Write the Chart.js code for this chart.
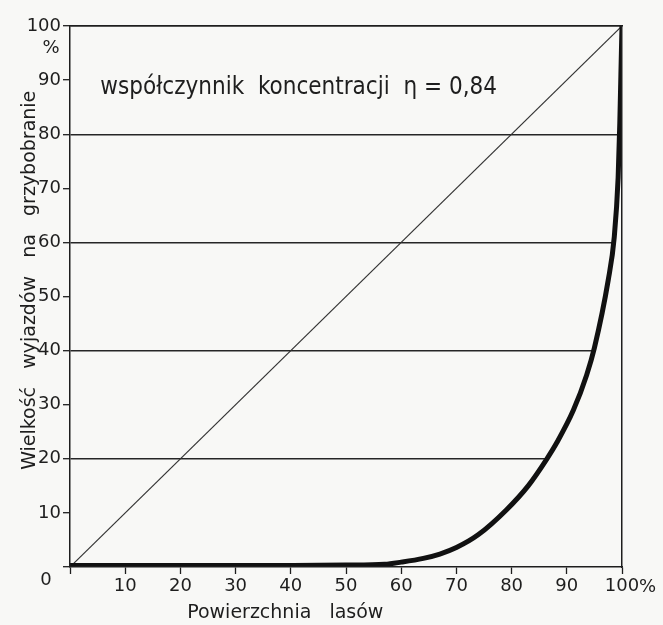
<!DOCTYPE html>
<html>
<head>
<meta charset="utf-8">
<script src="https://cdn.jsdelivr.net/npm/chart.js@4.4.0/dist/chart.umd.min.js"></script>
<style>
  html, body { margin: 0; padding: 0; background: #f8f8f6; }
</style>
</head>
<body>
<canvas id="myChart" width="663" height="625"></canvas>
<script>
// Lorenz curve: share of forest area (%) vs share of trips (%)
var areaShare = [0, 10, 20, 30, 40, 50, 57, 60, 64, 67, 70, 74, 79, 83, 86.4, 88.2, 91.2, 93.6, 95, 97.5, 98.6, 99.3, 99.6, 99.8, 100];
var tripShare = [0.3, 0.3, 0.3, 0.3, 0.3, 0.35, 0.5, 0.9, 1.6, 2.4, 3.6, 6, 10.5, 15, 20, 23, 29, 35.5, 40.5, 53, 61, 72, 82, 91, 100];
// line of equal distribution
var equalX = [0, 100];
var equalY = [0, 100];

var xTickLabels = ['', '10', '20', '30', '40', '50', '60', '70', '80', '90', '100'];
var yTickLabels = ['', '10', '20', '30', '40', '50', '60', '70', '80', '90', '100'];
var gridValues = [20, 40, 60, 80, 100];

var ink = '#1e1e1e';
var font = 'DejaVu Sans';

function toPoints(xs, ys) {
    return xs.map(function (x, i) { return { x: x, y: ys[i] }; });
}

var extras = {
    id: 'extras',
    afterDraw: function (chart) {
        var ctx = chart.ctx;
        var x = chart.scales.x, y = chart.scales.y;
        ctx.save();
        ctx.fillStyle = ink;
        ctx.textBaseline = 'middle';

        // corner zero and percent signs
        ctx.font = '18px "' + font + '"';
        ctx.textAlign = 'center';
        ctx.fillText('0', x.left - 24, y.bottom + 13);
        ctx.fillText('%', x.left - 19, y.getPixelForValue(100) + 22);
        ctx.textAlign = 'left';
        ctx.fillText('%', x.getPixelForValue(100) + 17, y.bottom + 20);

        // x title
        ctx.font = '19px "' + font + '"';
        ctx.textAlign = 'center';
        ctx.fillText('Powierzchnia   lasów', x.getPixelForValue(39), y.bottom + 46);

        // y title
        ctx.save();
        ctx.translate(30, y.getPixelForValue(53));
        ctx.rotate(-Math.PI / 2);
        ctx.fillText('Wielkość   wyjazdów   na   grzybobranie', 0, 0);
        ctx.restore();

        // annotation
        ctx.font = '24px "DejaVu Sans Condensed", "' + font + '"';
        ctx.textAlign = 'left';
        ctx.fillText('współczynnik  koncentracji  η = 0,84', x.getPixelForValue(5.5), y.getPixelForValue(88.5));
        ctx.restore();
    }
};

var context = document.getElementById('myChart').getContext('2d');

var myChart = new Chart(context, {
    type: 'scatter',
    data: {
        datasets: [{
            data: toPoints(areaShare, tripShare),
            showLine: true,
            borderColor: '#111',
            borderWidth: 5,
            pointRadius: 0,
            cubicInterpolationMode: 'monotone',
            fill: 'origin',
            backgroundColor: '#f8f8f6'
        }, {
            data: toPoints(equalX, equalY),
            showLine: true,
            borderColor: '#333',
            borderWidth: 1.2,
            pointRadius: 0,
            fill: false
        }]
    },
    options: {
        responsive: false,
        animation: false,
        layout: { padding: 0 },
        plugins: {
            legend: { display: false },
            tooltip: { enabled: false }
        },
        scales: {
            x: {
                type: 'linear',
                position: 'bottom',
                min: 0,
                max: 100,
                afterFit: function (s) { s.height = 58; },
                ticks: {
                    stepSize: 10,
                    color: ink,
                    font: { family: font, size: 18 },
                    padding: 2,
                    maxRotation: 0,
                    callback: function (v, i) { return xTickLabels[i]; }
                },
                grid: {
                    color: 'transparent',
                    drawTicks: true,
                    tickLength: 7,
                    tickColor: ink,
                    tickWidth: 1.3
                },
                border: { display: true, color: ink, width: 1.5, z: 1 }
            },
            xTop: {
                type: 'linear',
                position: 'top',
                min: 0,
                max: 100,
                afterFit: function (s) { s.height = 26; },
                ticks: { display: false },
                grid: { display: false },
                border: { display: true, color: ink, width: 1.5, z: 1 }
            },
            y: {
                type: 'linear',
                position: 'left',
                min: 0,
                max: 100,
                afterFit: function (s) { s.width = 70; },
                ticks: {
                    stepSize: 10,
                    color: ink,
                    font: { family: font, size: 18 },
                    padding: 2,
                    callback: function (v, i) { return yTickLabels[i]; }
                },
                grid: {
                    color: function (c) {
                        return gridValues.indexOf(c.tick.value) >= 0 ? '#262626' : 'transparent';
                    },
                    lineWidth: 1.4,
                    drawTicks: true,
                    tickLength: 7,
                    tickColor: ink,
                    tickWidth: 1.3
                },
                border: { display: true, color: ink, width: 1.5, z: 1 }
            },
            yRight: {
                type: 'linear',
                position: 'right',
                min: 0,
                max: 100,
                afterFit: function (s) { s.width = 41; },
                ticks: { display: false },
                grid: { display: false },
                border: { display: true, color: ink, width: 1.5, z: 1 }
            }
        }
    },
    plugins: [extras]
});
</script>
</body>
</html>
